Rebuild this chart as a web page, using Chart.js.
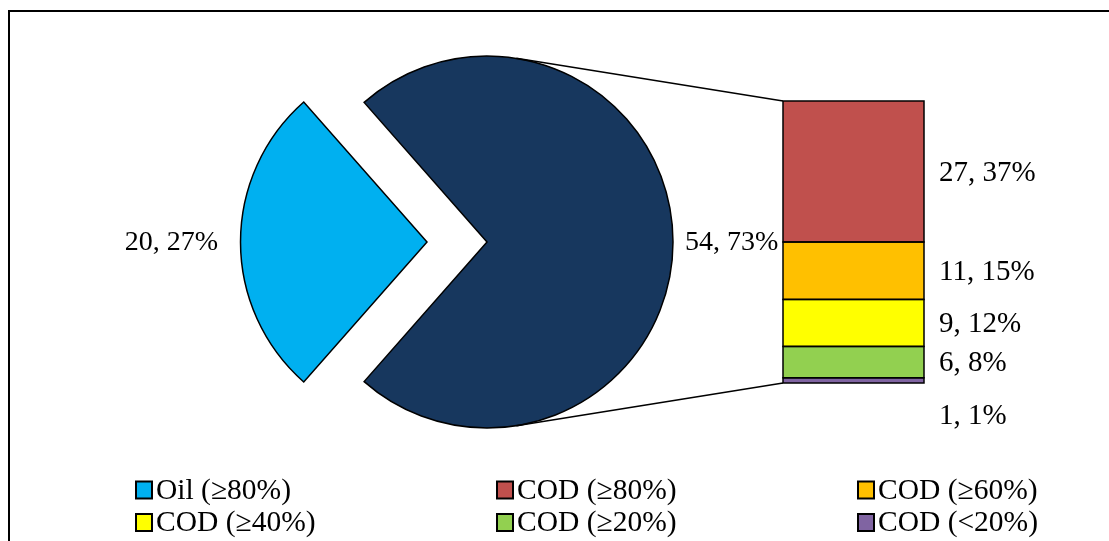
<!DOCTYPE html>
<html>
<head>
<meta charset="utf-8">
<title>Oil and COD removal</title>
<script src="https://cdn.jsdelivr.net/npm/chart.js@4.4.0/dist/chart.umd.min.js"></script>
<style>
  html, body { margin: 0; padding: 0; background: #fff; overflow: hidden; }
  #stage { position: relative; width: 1109px; height: 541px; overflow: hidden; background: #fff; }
  #frame { position: absolute; left: 8px; top: 10px; width: 1300px; height: 800px; border: 2px solid #000; }
  canvas { position: absolute; left: 0; top: 0; }
</style>
</head>
<body>
<div id="stage">
  <div id="frame"></div>
  <canvas id="pie" width="1109" height="541"></canvas>
  <canvas id="bar" width="1109" height="541"></canvas>
</div>
<script>
// Pie: oil versus all COD results
const pieLabels = ['Oil (≥80%)', 'COD'];
const pieValues = [20, 54];
const piePercents = [27, 73];
const pieColors = ['#00B0F0', '#17375E'];

// Stacked bar: breakdown of the COD slice, top to bottom
const barLabels = ['COD (≥80%)', 'COD (≥60%)', 'COD (≥40%)', 'COD (≥20%)', 'COD (<20%)'];
const barValues = [27, 11, 9, 6, 1];
const barPercents = [37, 15, 12, 8, 1];
const barColors = ['#C0504D', '#FFC000', '#FFFF00', '#92D050', '#8064A2'];

const FONT = '"Liberation Serif", "Times New Roman", serif';
const PIE_LABEL_FONT = '28px ' + FONT;
const BAR_LABEL_FONT = '29px ' + FONT;
const LEGEND_FONT = '29.5px ' + FONT;
const EXPLODE = 60;            // pixels the oil slice is pulled out
const sum = a => a.reduce((s, v) => s + v, 0);

const pieTotal = sum(pieValues);
const oilSweep = pieValues[0] / pieTotal * 360;

// Value labels next to each pie slice
const pieLabelPlugin = {
  id: 'pieLabels',
  afterDatasetsDraw(chart) {
    const ctx = chart.ctx;
    const arcs = chart.getDatasetMeta(0).data;
    ctx.save();
    ctx.font = PIE_LABEL_FONT;
    ctx.fillStyle = '#000';
    ctx.textBaseline = 'middle';
    arcs.forEach((arc, i) => {
      const mid = (arc.startAngle + arc.endAngle) / 2;
      const left = Math.cos(mid) < 0;
      const shift = i === 0 ? EXPLODE : 0;
      const gap = left ? 23 : 12;
      const rr = arc.outerRadius + shift + gap;
      ctx.textAlign = left ? 'right' : 'left';
      ctx.fillText(pieValues[i] + ', ' + piePercents[i] + '%',
        arc.x + Math.cos(mid) * rr, arc.y + Math.sin(mid) * rr + 1);
    });
    ctx.restore();
  }
};

const pieChart = new Chart(document.getElementById('pie'), {
  type: 'pie',
  data: {
    labels: pieLabels,
    datasets: [{
      data: pieValues,
      backgroundColor: pieColors,
      borderColor: '#000',
      borderWidth: 1.5,
      borderJoinStyle: 'miter',
      offset: [EXPLODE * 4, 0]
    }]
  },
  options: {
    responsive: false,
    animation: false,
    events: [],
    radius: 186,
    rotation: 270 - oilSweep / 2,
    layout: { padding: { left: 0, right: 135, top: 0, bottom: 57 } },
    plugins: { legend: { display: false }, tooltip: { enabled: false } }
  },
  plugins: [pieLabelPlugin]
});

const barTotal = sum(barValues);

// Connectors, bar outlines, bar labels and the shared legend
const overlayPlugin = {
  id: 'overlay',
  afterDatasetsDraw(chart) {
    const ctx = chart.ctx;
    const n = barValues.length;
    // dataset k holds barValues[n-1-k] (stack is built bottom-up)
    const elFor = i => chart.getDatasetMeta(n - 1 - i).data[0];
    const topEl = elFor(0), botEl = elFor(n - 1);
    const bx = topEl.x - topEl.width / 2;
    const bw = topEl.width;
    const bTop = topEl.y, bBot = botEl.base;

    ctx.save();
    // segment outlines
    ctx.strokeStyle = '#000';
    ctx.lineWidth = 1.5;
    for (let i = 0; i < n; i++) {
      const el = elFor(i);
      ctx.strokeRect(bx, el.y, bw, el.base - el.y);
    }

    // tangent connector lines from the pie to the bar corners
    const arc = pieChart.getDatasetMeta(0).data[1];
    const cx = arc.x, cy = arc.y, r = arc.outerRadius;
    [[bx, bTop, -1], [bx, bBot, 1]].forEach(([px, py, s]) => {
      const dx = px - cx, dy = py - cy;
      const d = Math.hypot(dx, dy);
      const a = Math.atan2(dy, dx) + s * Math.acos(r / d);
      ctx.beginPath();
      ctx.moveTo(cx + r * Math.cos(a), cy + r * Math.sin(a));
      ctx.lineTo(px, py);
      ctx.lineWidth = 1.5;
      ctx.stroke();
    });

    // value labels to the right of the bar
    ctx.font = BAR_LABEL_FONT;
    ctx.fillStyle = '#000';
    ctx.textAlign = 'left';
    ctx.textBaseline = 'middle';
    for (let i = 0; i < n; i++) {
      const el = elFor(i);
      const h = el.base - el.y;
      const y = h < 20 ? bBot + 33 : (el.y + el.base) / 2 + 1.5;
      ctx.fillText(barValues[i] + ', ' + barPercents[i] + '%', bx + bw + 15, y);
    }

    // legend, three columns by two rows
    const items = [[pieLabels[0], pieColors[0]]].concat(barLabels.map((l, i) => [l, barColors[i]]));
    const cols = [136, 497, 858];
    const rows = [498.5, 531];
    ctx.font = LEGEND_FONT;
    ctx.textBaseline = 'alphabetic';
    items.forEach(([label, color], i) => {
      const x = cols[i % 3], y = rows[Math.floor(i / 3)];
      ctx.fillStyle = color;
      ctx.fillRect(x, y - 17, 16, 17);
      ctx.strokeStyle = '#000';
      ctx.lineWidth = 2;
      ctx.strokeRect(x, y - 17, 16, 17);
      ctx.fillStyle = '#000';
      ctx.fillText(label, x + 20, y);
    });
    ctx.restore();
  }
};

new Chart(document.getElementById('bar'), {
  type: 'bar',
  data: {
    labels: ['COD'],
    datasets: barValues.map((v, i) => ({
      label: barLabels[i],
      data: [v],
      backgroundColor: barColors[i],
      borderWidth: 0,
      categoryPercentage: 1,
      barPercentage: 1
    })).reverse()
  },
  options: {
    responsive: false,
    animation: false,
    events: [],
    layout: { padding: { left: 783, right: 185, top: 101, bottom: 158 } },
    scales: {
      x: { display: false, stacked: true },
      y: { display: false, stacked: true, min: 0, max: barTotal }
    },
    plugins: { legend: { display: false }, tooltip: { enabled: false } }
  },
  plugins: [overlayPlugin]
});
</script>
</body>
</html>
